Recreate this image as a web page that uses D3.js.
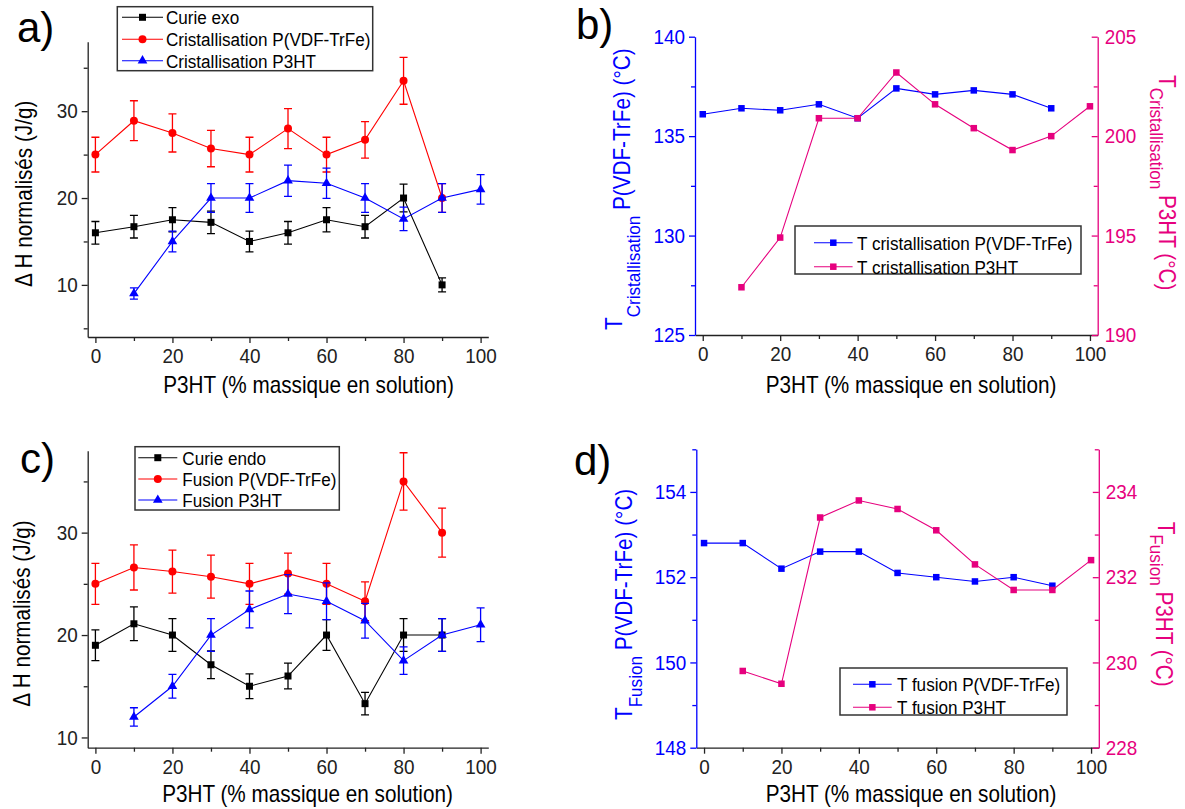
<!DOCTYPE html>
<html><head><meta charset="utf-8">
<script src="https://cdn.jsdelivr.net/npm/d3@7"></script>
<style>
body{margin:0;background:#fff}
svg{display:block}
text{font-family:"Liberation Sans",Arial,sans-serif;white-space:pre}
</style>
</head><body>
<svg id="chart" width="1185" height="809"></svg>
<script>
// ---------------- DATA ----------------
const xPct = [0,10,20,30,40,50,60,70,80,90,100];
const xMajorTicks = [0,20,40,60,80,100];
const xMinorTicks = [10,30,50,70,90];
const xTitle = "P3HT (% massique en solution)";

// a) enthalpies on cooling
const curieExo       = [16.0,16.7,17.5,17.2,15.0,16.0,17.5,16.7,20.0,10.0,null];
const curieExoErr    = [1.3,1.3,1.4,1.3,1.2,1.3,1.4,1.3,1.6,0.8,null];
const cristPVDF      = [25.0,28.9,27.5,25.7,25.0,28.0,25.0,26.7,33.5,20.0,null];
const cristPVDFErr   = [2.0,2.3,2.2,2.1,2.0,2.3,2.0,2.1,2.7,1.65,null];
const cristP3HT      = [null,9.0,15.0,20.0,20.0,22.0,21.7,20.0,17.6,20.0,21.0];
const cristP3HTErr   = [null,0.65,1.2,1.65,1.65,1.8,1.75,1.65,1.35,1.65,1.7];
const aYTicks = [10,20,30];
const aYMinor = [5,15,25,35];
const aLegend = ["Curie exo","Cristallisation P(VDF-TrFe)","Cristallisation P3HT"];

// b) crystallisation temperatures
const tCristPVDF = [136.1,136.4,136.3,136.6,135.9,137.4,137.1,137.3,137.1,136.4,null];
const tCristP3HT = [null,192.4,194.9,200.9,200.9,203.2,201.6,200.4,199.3,200.0,201.5];
const bYTicks = [125,130,135,140];
const bYMinor = [127.5,132.5,137.5];
const bY2Ticks = [190,195,200,205];
const bY2Minor = [192.5,197.5,202.5];
const bLegend = ["T cristallisation P(VDF-TrFe)","T cristallisation P3HT"];

// c) enthalpies on heating
const curieEndo      = [19.0,21.1,20.0,17.1,15.0,16.0,20.0,13.3,20.0,20.0,null];
const curieEndoErr   = [1.5,1.65,1.6,1.35,1.2,1.25,1.5,1.1,1.6,1.6,null];
const fusionPVDF     = [25.0,26.6,26.2,25.7,25.0,26.0,25.0,23.3,35.0,30.0,null];
const fusionPVDFErr  = [2.0,2.2,2.1,2.1,2.0,2.0,2.0,1.9,2.8,2.4,null];
const fusionP3HT     = [null,12.0,15.0,20.0,22.5,24.0,23.3,21.4,17.5,20.0,21.0];
const fusionP3HTErr  = [null,0.9,1.15,1.6,1.8,1.9,1.8,1.7,1.35,1.6,1.65];
const cYTicks = [10,20,30];
const cYMinor = [15,25,35];
const cLegend = ["Curie endo","Fusion P(VDF-TrFe)","Fusion P3HT"];

// d) melting temperatures
const tFusPVDF = [152.8,152.8,152.2,152.6,152.6,152.1,152.0,151.9,152.0,151.8,null];
const tFusP3HT = [null,229.8,229.5,233.4,233.8,233.6,233.1,232.3,231.7,231.7,232.4];
const dYTicks = [148,150,152,154];
const dYMinor = [149,151,153,155];
const dY2Ticks = [228,230,232,234];
const dY2Minor = [229,231,233,235];
const dLegend = ["T fusion P(VDF-TrFe)","T fusion P3HT"];

// ---------------- STYLE ----------------
const BLACK = "#000000", RED = "#ff0000", BLUE = "#0000ff", PINK = "#e6007e", AXIS = "#222222";
const SX = 0.9;            // horizontal text compression
const FONT = "Liberation Sans, Arial, sans-serif";
const TICK_FS = 21, TITLE_FS = 23, SUB_FS = 19, LEG_FS = 19;

const svg = d3.select("#chart");
svg.append("rect").attr("width",1185).attr("height",809).attr("fill","#fff");

function styleAxis(ax, color){
  ax.attr("font-size",TICK_FS).attr("font-family",FONT);
  ax.select(".domain").attr("stroke",color).attr("stroke-width",1.3);
  ax.selectAll(".tick line").attr("stroke",color).attr("stroke-width",1.3);
  ax.selectAll(".tick text").attr("fill",color).attr("transform",`scale(${SX},1)`);
}

function xAxis(g, x, y0){
  const ax = g.append("g").attr("transform",`translate(0,${y0})`)
    .call(d3.axisBottom(x).tickValues(xMajorTicks).tickSizeInner(6).tickSizeOuter(0).tickPadding(5).tickFormat(d3.format("d")));
  styleAxis(ax, AXIS);
  const mn = g.append("g").attr("transform",`translate(0,${y0})`)
    .call(d3.axisBottom(x).tickValues(xMinorTicks).tickSizeInner(4).tickSizeOuter(0).tickFormat(""));
  mn.select(".domain").remove();
  mn.selectAll(".tick line").attr("stroke",AXIS).attr("stroke-width",1.3);
}

function yAxisLeft(g, y, x0, ticks, minor, color, fmt){
  const ax = g.append("g").attr("transform",`translate(${x0},0)`)
    .call(d3.axisLeft(y).tickValues(ticks).tickSizeInner(6).tickSizeOuter(0).tickPadding(5.1).tickFormat(fmt||d3.format("d")));
  styleAxis(ax, color);
  const mn = g.append("g").attr("transform",`translate(${x0},0)`)
    .call(d3.axisLeft(y).tickValues(minor).tickSizeInner(4).tickSizeOuter(0).tickFormat(""));
  mn.select(".domain").remove();
  mn.selectAll(".tick line").attr("stroke",color).attr("stroke-width",1.3);
}

function yAxisRight(g, y, x1, ticks, minor, color){
  const ax = g.append("g").attr("transform",`translate(${x1},0)`)
    .call(d3.axisRight(y).tickValues(ticks).tickSizeInner(-6).tickSizeOuter(0).tickPadding(7.8).tickFormat(d3.format("d")));
  styleAxis(ax, color);
  const mn = g.append("g").attr("transform",`translate(${x1},0)`)
    .call(d3.axisRight(y).tickValues(minor).tickSizeInner(-4).tickSizeOuter(0).tickFormat(""));
  mn.select(".domain").remove();
  mn.selectAll(".tick line").attr("stroke",color).attr("stroke-width",1.3);
}

function marker(g, type, cx, cy, s, color){
  if(type==="square"){
    g.append("rect").attr("x",cx-s/2).attr("y",cy-s/2).attr("width",s).attr("height",s).attr("fill",color);
  } else if(type==="circle"){
    g.append("circle").attr("cx",cx).attr("cy",cy).attr("r",s/2).attr("fill",color);
  } else {
    g.append("path").attr("d",d3.symbol(d3.symbolTriangle, s*s*0.5)()).attr("transform",`translate(${cx},${cy})`).attr("fill",color);
  }
}

function series(g, x, y, vals, errs, color, type, s){
  const pts = xPct.map((xv,i)=>({x:xv, v:vals[i], e: errs ? errs[i] : null})).filter(d=>d.v!=null);
  g.append("path").datum(pts)
    .attr("d", d3.line().x(d=>x(d.x)).y(d=>y(d.v)))
    .attr("fill","none").attr("stroke",color).attr("stroke-width",1.1);
  if(errs){
    pts.forEach(d=>{
      const cx = x(d.x), yt = y(d.v+d.e), yb = y(d.v-d.e);
      g.append("path").attr("d",`M${cx-4},${yt}H${cx+4}M${cx},${yt}V${yb}M${cx-4},${yb}H${cx+4}`)
        .attr("fill","none").attr("stroke",color).attr("stroke-width",1.3);
    });
  }
  pts.forEach(d=>marker(g,type,x(d.x),y(d.v),s,color));
}

function ctext(g, x, y, str, fs, color, anchor){
  return g.append("text").attr("transform",`translate(${x},${y}) scale(${SX},1)`)
    .attr("font-size",fs).attr("fill",color).attr("text-anchor",anchor||"start").text(str);
}

// rotated title with subscript: parts = [[text, size, dy], ...]
function rotTitle(g, x, y, angle, parts, color){
  const t = g.append("text").attr("transform",`translate(${x},${y}) rotate(${angle}) scale(${SX},1)`)
    .attr("fill",color).attr("text-anchor","start");
  parts.forEach(p=>t.append("tspan").attr("font-size",p[1]).attr("dy",p[2]).text(p[0]));
}

function legend(g, box, items){
  g.append("rect").attr("x",box.x0).attr("y",box.y0).attr("width",box.x1-box.x0).attr("height",box.y1-box.y0)
    .attr("fill","none").attr("stroke","#333").attr("stroke-width",1.5);
  items.forEach(it=>{
    g.append("line").attr("x1",box.l0).attr("x2",box.l1).attr("y1",it.y).attr("y2",it.y)
      .attr("stroke",it.color).attr("stroke-width",1.1);
    marker(g, it.type, (box.l0+box.l1)/2, it.y, it.s, it.color);
    ctext(g, box.tx, it.y+7, it.label, LEG_FS, "#000");
  });
}

function panelLabel(x, y, str){
  svg.append("text").attr("x",x).attr("y",y).attr("font-family","Lato, 'Open Sans', sans-serif")
    .attr("font-size",42).attr("fill","#000").text(str);
}

// ---------------- PANEL a ----------------
{
  const g = svg.append("g");
  const x = d3.scaleLinear().domain([-2,102]).range([87.7,488.3]);
  const y = d3.scaleLinear().domain([4,38]).range([337,41.7]);
  xAxis(g, x, 337);
  yAxisLeft(g, y, 87.7, aYTicks, aYMinor, AXIS);
  series(g, x, y, curieExo, curieExoErr, BLACK, "square", 7);
  series(g, x, y, cristPVDF, cristPVDFErr, RED, "circle", 8);
  series(g, x, y, cristP3HT, cristP3HTErr, BLUE, "triangle", 9);
  ctext(g, 308.5, 393, xTitle, TITLE_FS, "#000", "middle");
  rotTitle(g, 32, 287, -90, [["Δ H normalisés (J/g)", TITLE_FS, 0]], "#000");
  legend(g, {x0:117.3,x1:372.7,y0:6.7,y1:70.7,l0:122,l1:163,tx:166}, [
    {label:aLegend[0], color:BLACK, type:"square", s:7, y:17.3},
    {label:aLegend[1], color:RED, type:"circle", s:8, y:39.3},
    {label:aLegend[2], color:BLUE, type:"triangle", s:9, y:60.7}
  ]);
  panelLabel(17, 42, "a)");
}

// ---------------- PANEL b ----------------
{
  const g = svg.append("g");
  const x = d3.scaleLinear().domain([-2,102]).range([695,1097.7]);
  const y = d3.scaleLinear().domain([125,140]).range([335,36.7]);
  const y2 = d3.scaleLinear().domain([190,205]).range([335,36.7]);
  xAxis(g, x, 335);
  yAxisLeft(g, y, 695, bYTicks, bYMinor, BLUE);
  yAxisRight(g, y2, 1097.7, bY2Ticks, bY2Minor, PINK);
  series(g, x, y, tCristPVDF, null, BLUE, "square", 6.5);
  series(g, x, y2, tCristP3HT, null, PINK, "square", 6.5);
  ctext(g, 911, 393, xTitle, TITLE_FS, "#000", "middle");
  rotTitle(g, 622, 330, -90, [["T",TITLE_FS,0],["Cristallisation",SUB_FS,18],[" P(VDF-TrFe) (°C)",TITLE_FS,-10]], BLUE);
  rotTitle(g, 1159, 75, 90, [["T",TITLE_FS,0],["Cristallisation",SUB_FS,9],[" P3HT (°C)",TITLE_FS,-9]], PINK);
  legend(g, {x0:795,x1:1081,y0:226,y1:274,l0:814,l1:852.6,tx:857}, [
    {label:bLegend[0], color:BLUE, type:"square", s:6.5, y:242.7},
    {label:bLegend[1], color:PINK, type:"square", s:6.5, y:266.7}
  ]);
  panelLabel(576, 39, "b)");
}

// ---------------- PANEL c ----------------
{
  const g = svg.append("g");
  const x = d3.scaleLinear().domain([-2,102]).range([87.7,488.3]);
  const y = d3.scaleLinear().domain([9,38]).range([747.7,450.7]);
  xAxis(g, x, 747.7);
  yAxisLeft(g, y, 87.7, cYTicks, cYMinor, AXIS);
  series(g, x, y, curieEndo, curieEndoErr, BLACK, "square", 7);
  series(g, x, y, fusionPVDF, fusionPVDFErr, RED, "circle", 8);
  series(g, x, y, fusionP3HT, fusionP3HTErr, BLUE, "triangle", 9);
  ctext(g, 307.5, 801.7, xTitle, TITLE_FS, "#000", "middle");
  rotTitle(g, 30, 706.7, -90, [["Δ H normalisés (J/g)", TITLE_FS, 0]], "#000");
  legend(g, {x0:135,x1:339.3,y0:446.7,y1:510,l0:138.3,l1:177.3,tx:182.3}, [
    {label:cLegend[0], color:BLACK, type:"square", s:7, y:457.7},
    {label:cLegend[1], color:RED, type:"circle", s:8, y:479},
    {label:cLegend[2], color:BLUE, type:"triangle", s:9, y:500}
  ]);
  panelLabel(20, 473, "c)");
}

// ---------------- PANEL d ----------------
{
  const g = svg.append("g");
  const x = d3.scaleLinear().domain([-2,102]).range([696.3,1098.8]);
  const y = d3.scaleLinear().domain([148,155]).range([747.7,449.3]);
  const y2 = d3.scaleLinear().domain([228,235]).range([747.7,449.3]);
  xAxis(g, x, 747.7);
  yAxisLeft(g, y, 696.3, dYTicks, dYMinor, BLUE);
  yAxisRight(g, y2, 1098.8, dY2Ticks, dY2Minor, PINK);
  series(g, x, y, tFusPVDF, null, BLUE, "square", 6.5);
  series(g, x, y2, tFusP3HT, null, PINK, "square", 6.5);
  ctext(g, 911, 801.5, xTitle, TITLE_FS, "#000", "middle");
  rotTitle(g, 632, 720, -90, [["T",TITLE_FS,0],["Fusion",SUB_FS,10],[" P(VDF-TrFe) (°C)",TITLE_FS,-10]], BLUE);
  rotTitle(g, 1158, 521.7, 90, [["T",TITLE_FS,0],["Fusion",SUB_FS,8],[" P3HT (°C)",TITLE_FS,-6]], PINK);
  legend(g, {x0:840,x1:1067,y0:668,y1:715,l0:853,l1:891.7,tx:897}, [
    {label:dLegend[0], color:BLUE, type:"square", s:6.5, y:684.3},
    {label:dLegend[1], color:PINK, type:"square", s:6.5, y:707.3}
  ]);
  panelLabel(574, 475, "d)");
}
</script>
</body></html>
